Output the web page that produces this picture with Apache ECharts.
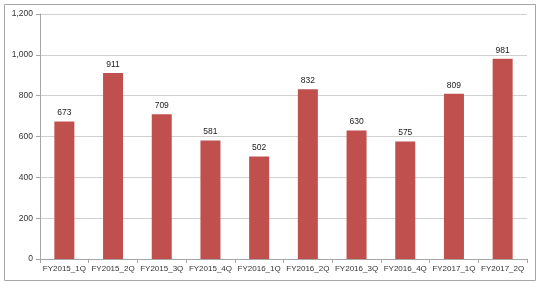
<!DOCTYPE html>
<html><head><meta charset="utf-8">
<script src="https://cdn.jsdelivr.net/npm/echarts@6/dist/echarts.min.js"></script>
<style>html,body{margin:0;padding:0;background:#fff}#c{width:540px;height:287px}</style>
</head><body><div id="c"></div>
<script>
const categories = ['FY2015_1Q','FY2015_2Q','FY2015_3Q','FY2015_4Q','FY2016_1Q','FY2016_2Q','FY2016_3Q','FY2016_4Q','FY2017_1Q','FY2017_2Q'];
const values = [673, 911, 709, 581, 502, 832, 630, 575, 809, 981];
const chart = echarts.init(document.getElementById('c'));
chart.setOption({
  animation: false,
  graphic: [{type:'rect', shape:{x:4.5,y:4.5,width:531,height:276}, style:{fill:'none', stroke:'#a6a6a6', lineWidth:1}}],
  grid: {left:40, right:13, top:14, bottom:28},
  xAxis: {
    type:'category', data: categories,
    axisLine:{lineStyle:{color:'#a6a6a6'}},
    axisTick:{show:true, length:4, lineStyle:{color:'#a6a6a6'}},
    axisLabel:{color:'#333', fontSize:8, fontFamily:'Liberation Sans', margin:6, interval:0}
  },
  yAxis: {
    type:'value', min:0, max:1200, interval:200,
    axisLine:{show:true, lineStyle:{color:'#a6a6a6'}},
    axisTick:{show:true, length:4, lineStyle:{color:'#a6a6a6'}},
    splitLine:{lineStyle:{color:'#d0d0d0'}},
    axisLabel:{color:'#333', fontSize:8.5, fontFamily:'Liberation Sans', margin:7,
      formatter: v => v.toLocaleString('en-US')}
  },
  series: [{
    type:'bar', data: values, barWidth:20,
    itemStyle:{color:'#c0504d'},
    label:{show:true, position:'top', distance:4, color:'#222', fontSize:8.5, fontFamily:'Liberation Sans'}
  }]
});
</script></body></html>
